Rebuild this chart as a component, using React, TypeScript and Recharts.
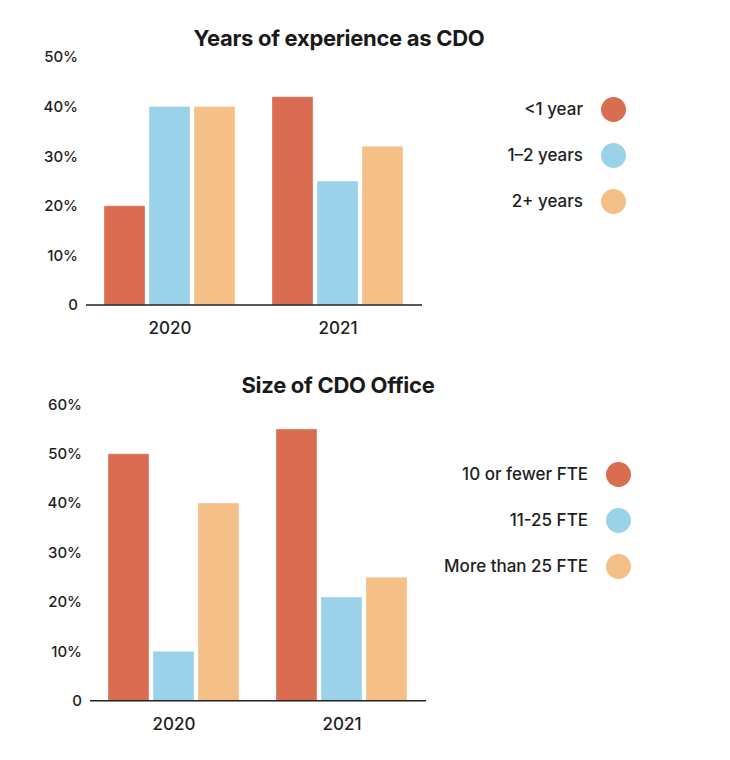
import React from "react";
import { BarChart, Bar, XAxis, YAxis } from "recharts";

const FONT = "Inter, 'Open Sans', sans-serif";

const years = ["2020", "2021"];

// Years of experience as CDO (%)
const expLabels = ["<1 year", "1–2 years", "2+ years"];
const expUnder1 = [20, 42];
const exp1to2 = [40, 25];
const exp2plus = [40, 32];
const expTicks = [0, 10, 20, 30, 40, 50];

// Size of CDO Office (%)
const sizeLabels = ["10 or fewer FTE", "11-25 FTE", "More than 25 FTE"];
const size10 = [50, 55];
const size11to25 = [10, 21];
const size25plus = [40, 25];
const sizeTicks = [0, 10, 20, 30, 40, 50, 60];

const colors = ["#D96C51", "#9AD3E9", "#F5BF88"];

const expData = years.map((y, i) => ({
  year: y,
  a: expUnder1[i],
  b: exp1to2[i],
  c: exp2plus[i],
}));

const sizeData = years.map((y, i) => ({
  year: y,
  a: size10[i],
  b: size11to25[i],
  c: size25plus[i],
}));

const pct = (v: number) => (v === 0 ? "0" : `${v}%`);

const Title = ({ text, cx, cy }: { text: string; cx: number; cy: number }) => (
  <div
    style={{
      position: "absolute",
      left: cx - 200,
      top: cy - 14,
      width: 400,
      textAlign: "center",
      fontFamily: FONT,
      fontWeight: 700,
      fontSize: 22,
      lineHeight: "28px",
      color: "#1a1a1a",
      letterSpacing: -0.3,
    }}
  >
    {text}
  </div>
);

const SideLegend = ({
  labels,
  textRight,
  dotX,
  top,
}: {
  labels: string[];
  textRight: number;
  dotX: number;
  top: number;
}) => (
  <>
    {labels.map((l, i) => (
      <React.Fragment key={l}>
        <div
          style={{
            position: "absolute",
            left: textRight - 250,
            width: 250,
            top: top + i * 46 - 11,
            lineHeight: "22px",
            textAlign: "right",
            fontFamily: FONT,
            fontWeight: 500,
            fontSize: 17,
            color: "#1e1e1e",
          }}
        >
          {l}
        </div>
        <div
          style={{
            position: "absolute",
            left: dotX - 12.5,
            top: top + i * 46 - 12.5,
            width: 25,
            height: 25,
            borderRadius: "50%",
            background: colors[i],
          }}
        />
      </React.Fragment>
    ))}
  </>
);

const tickY = { fontSize: 15, fontWeight: 500, fill: "#1e1e1e", fontFamily: FONT };
const tickX = { fontSize: 17, fontWeight: 500, fill: "#1e1e1e", fontFamily: FONT };

export default function App() {
  return (
    <div
      style={{
        position: "absolute",
        left: 0,
        top: 0,
        width: 730,
        height: 760,
        background: "#fff",
      }}
    >
      <Title text="Years of experience as CDO" cx={339} cy={38} />
      <div style={{ position: "absolute", left: 0, top: 0 }}>
        <BarChart
          width={440}
          height={345}
          data={expData}
          margin={{ top: 57, right: 18, left: 0, bottom: 0 }}
          barCategoryGap={18}
          barGap={4}
        >
          <XAxis
            dataKey="year"
            height={40}
            tickLine={false}
            tickSize={0}
            tickMargin={17}
            axisLine={{ stroke: "#222", strokeWidth: 1.5 }}
            tick={tickX}
          />
          <YAxis
            width={86}
            domain={[0, 50]}
            ticks={expTicks}
            tickFormatter={pct}
            axisLine={false}
            tickLine={false}
            tickSize={0}
            tickMargin={8}
            tick={tickY}
          />
          {["a", "b", "c"].map((k, i) => (
            <Bar
              key={k}
              dataKey={k}
              name={expLabels[i]}
              fill={colors[i]}
              stroke="#fff"
              strokeOpacity={0.35}
              isAnimationActive={false}
            />
          ))}
        </BarChart>
      </div>
      <SideLegend labels={expLabels} textRight={583} dotX={613} top={109} />

      <Title text="Size of CDO Office" cx={338} cy={385} />
      <div style={{ position: "absolute", left: 0, top: 360 }}>
        <BarChart
          width={444}
          height={385}
          data={sizeData}
          margin={{ top: 44.3, right: 18, left: 0, bottom: 4.3 }}
          barCategoryGap={18}
          barGap={4}
        >
          <XAxis
            dataKey="year"
            height={40}
            tickLine={false}
            tickSize={0}
            tickMargin={17}
            axisLine={{ stroke: "#222", strokeWidth: 1.5 }}
            tick={tickX}
          />
          <YAxis
            width={90}
            domain={[0, 60]}
            ticks={sizeTicks}
            tickFormatter={pct}
            axisLine={false}
            tickLine={false}
            tickSize={0}
            tickMargin={8}
            tick={tickY}
          />
          {["a", "b", "c"].map((k, i) => (
            <Bar
              key={k}
              dataKey={k}
              name={sizeLabels[i]}
              fill={colors[i]}
              stroke="#fff"
              strokeOpacity={0.35}
              isAnimationActive={false}
            />
          ))}
        </BarChart>
      </div>
      <SideLegend labels={sizeLabels} textRight={588} dotX={618} top={474} />
    </div>
  );
}
